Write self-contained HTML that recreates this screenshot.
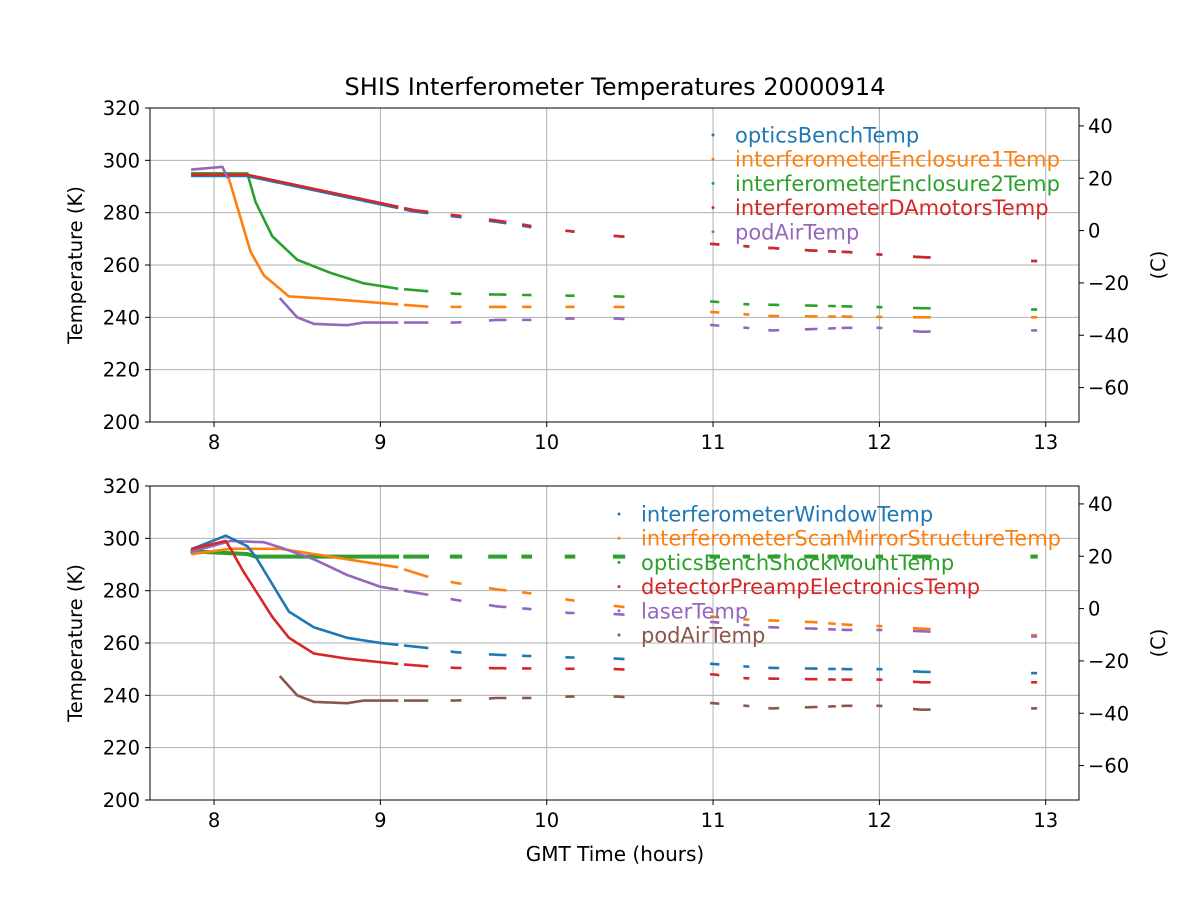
<!DOCTYPE html>
<html><head><meta charset="utf-8"><style>
html,body{margin:0;padding:0;background:#fff;}
svg text{font-family:"DejaVu Sans","Liberation Sans",sans-serif;fill:#000;}
</style></head><body>
<svg id="s" width="1200" height="900" xmlns="http://www.w3.org/2000/svg"></svg>
<script>
const S=document.getElementById('s');let h='';
const X=t=>150+(t-7.615)*(929/(13.2-7.615));
const axes=[{top:108,bot:422},{top:486,bot:800}];
function Y(ax,k){return ax.bot-(k-200)*(ax.bot-ax.top)/120;}
const C={b:'#1f77b4',o:'#ff7f0e',g:'#2ca02c',r:'#d62728',p:'#9467bd',br:'#8c564b'};
function interp(k,t){if(t<=k[0][0])return k[0][1];for(let i=1;i<k.length;i++){if(t<=k[i][0]){const a=k[i-1],b=k[i];return a[1]+(b[1]-a[1])*(t-a[0])/(b[0]-a[0]);}}return k[k.length-1][1];}
const clusters=[[9.15,9.28],[9.43,9.48],[9.66,9.75],[9.86,9.9],[10.12,10.16],[10.41,10.46],[10.99,11.03],[11.19,11.21],[11.34,11.39],[11.56,11.62],[11.7,11.73],[11.78,11.83],[11.99,12.01],[12.21,12.3],[12.92,12.94]];
function series(ax,col,k,ranges,w){
  ranges=ranges||[[7.87,9.1]];w=w||2.6;
  const segs=ranges.concat(clusters.filter(c=>c[0]>ranges[ranges.length-1][1]));
  for(const [a,b] of segs){let pts=[];const n=Math.max(2,Math.ceil((b-a)/0.005));
    for(let i=0;i<=n;i++){const t=a+(b-a)*i/n;pts.push(X(t).toFixed(1)+','+Y(ax,interp(k,t)).toFixed(1));}
    h+=`<polyline points="${pts.join(' ')}" fill="none" stroke="${col}" stroke-width="${w}" stroke-linecap="square"/>`;}
}
for(const ax of axes){
  for(let v=200;v<=320;v+=20){const y=Y(ax,v);h+=`<line x1="150" x2="1079" y1="${y}" y2="${y}" stroke="#b0b0b0" stroke-width="1"/>`;
    h+=`<line x1="145" x2="150" y1="${y}" y2="${y}" stroke="#000"/><text x="140" y="${y+7}" font-size="19.5" text-anchor="end">${v}</text>`;}
  for(let t=8;t<=13;t++){const x=X(t);h+=`<line x1="${x}" x2="${x}" y1="${ax.top}" y2="${ax.bot}" stroke="#b0b0b0"/>`;
    h+=`<line x1="${x}" x2="${x}" y1="${ax.bot}" y2="${ax.bot+5}" stroke="#000"/><text x="${x}" y="${ax.bot+27}" font-size="19.5" text-anchor="middle">${t}</text>`;}
  for(let c=-60;c<=40;c+=20){const y=Y(ax,c+273.15);h+=`<line x1="1079" x2="1084" y1="${y}" y2="${y}" stroke="#000"/><text x="1088" y="${y+7}" font-size="19.5">${c<0?'\u2212'+(-c):c}</text>`;}
  h+=`<text transform="translate(82,${(ax.top+ax.bot)/2}) rotate(-90)" font-size="19.5" text-anchor="middle">Temperature (K)</text>`;
  h+=`<text transform="translate(1165,${(ax.top+ax.bot)/2}) rotate(-90)" font-size="19.5" text-anchor="middle">(C)</text>`;
}
const A=axes[0],B=axes[1];
const pod=[[8.4,247],[8.5,240],[8.6,237.5],[8.8,237],[8.9,238],[9.3,238],[9.45,238],[9.7,239],[9.9,239],[10.13,239.5],[10.43,239.5],[11,237],[11.2,236],[11.35,235],[11.6,235.5],[11.8,236],[12,236],[12.25,234.5],[12.93,235]];
series(A,C.o,[[7.87,295],[8.08,295],[8.15,280],[8.22,265],[8.3,256],[8.45,248],[8.7,247],[9.1,245],[9.3,244],[10.43,244],[11,242],[11.35,240.5],[12.28,240],[12.93,240]]);
series(A,C.g,[[7.87,295],[8.2,295],[8.25,284],[8.35,271],[8.5,262],[8.7,257],[8.9,253],[9.1,251],[9.45,249],[9.9,248.5],[10.43,248],[11,246],[11.2,245],[11.8,244.2],[12.25,243.5],[12.93,243]]);
series(A,C.b,[[7.87,294],[8.1,294],[8.2,294],[9.2,280.5],[9.45,278.5],[9.7,276.5],[9.9,274.5],[10.13,273],[10.43,271],[11,268],[11.35,266.5],[11.6,265.5],[11.8,265],[12,264],[12.25,263],[12.93,261.5]]);
series(A,C.r,[[7.87,294.5],[8.2,294.5],[9.2,281],[9.45,279],[9.7,277],[9.9,275],[10.13,273],[10.43,271],[11,268],[11.35,266.5],[11.6,265.5],[11.8,265],[12,264],[12.25,263],[12.93,261.5]]);
series(A,C.p,[[7.87,296.5],[8.05,297.5],[8.1,291]].concat(pod),[[7.87,8.08],[8.4,9.1]]);
series(B,C.g,[[7.87,295],[8.2,294],[8.25,293],[12.93,293]],null,4);
series(B,C.o,[[7.87,294],[8.1,296],[8.4,296],[8.8,292],[9.1,289],[9.3,285],[9.45,283],[9.7,280.5],[9.9,279],[10.13,276.5],[10.43,274],[11,270],[11.2,269],[11.6,268],[11.8,267],[12,266.5],[12.25,265.5],[12.93,263]]);
series(B,C.p,[[7.87,295],[8.1,299],[8.3,298.5],[8.4,296.5],[8.6,292],[8.8,286],[9.0,281.5],[9.28,278.5],[9.45,276.5],[9.7,274],[9.9,273],[10.13,271.5],[10.43,271],[11,268],[11.35,266],[11.6,265.5],[11.8,265],[12,265],[12.25,264.5],[12.93,262.5]]);
series(B,C.b,[[7.87,296],[8.07,301],[8.2,297],[8.25,293],[8.45,272],[8.6,266],[8.8,262],[9.0,260],[9.3,258],[9.45,256.5],[9.7,255.5],[9.9,255],[10.13,254.5],[10.43,254],[11,252],[11.2,251],[11.35,250.5],[11.8,250],[12,250],[12.25,249],[12.93,248.5]]);
series(B,C.r,[[7.87,296],[8.07,299],[8.1,296],[8.17,288],[8.25,280],[8.35,270],[8.45,262],[8.6,256],[8.8,254],[9.1,252],[9.3,251],[9.45,250.5],[10.43,250],[11,248],[11.2,246.5],[11.8,246],[12,246],[12.25,245],[12.93,245]]);
series(B,C.br,pod,[[8.4,9.1]]);
for(const ax of axes)h+=`<rect x="150" y="${ax.top}" width="929" height="${ax.bot-ax.top}" fill="none" stroke="#000" stroke-width="1"/>`;
function legend(x,y0,items){items.forEach((it,i)=>{const y=y0+i*24.2;h+=`<circle cx="${x}" cy="${y}" r="1.5" fill="${it[1]}"/><text x="${x+22}" y="${y+7.5}" font-size="21" style="fill:${it[1]}">${it[0]}</text>`;});}
legend(713,135,[['opticsBenchTemp',C.b],['interferometerEnclosure1Temp',C.o],['interferometerEnclosure2Temp',C.g],['interferometerDAmotorsTemp',C.r],['podAirTemp',C.p]]);
legend(619,514,[['interferometerWindowTemp',C.b],['interferometerScanMirrorStructureTemp',C.o],['opticsBenchShockMountTemp',C.g],['detectorPreampElectronicsTemp',C.r],['laserTemp',C.p],['podAirTemp',C.br]]);
h+=`<text x="615" y="95" font-size="24" text-anchor="middle">SHIS Interferometer Temperatures 20000914</text>`;
h+=`<text x="615" y="861" font-size="20" text-anchor="middle">GMT Time (hours)</text>`;
S.innerHTML=h;
</script>
</body></html>
